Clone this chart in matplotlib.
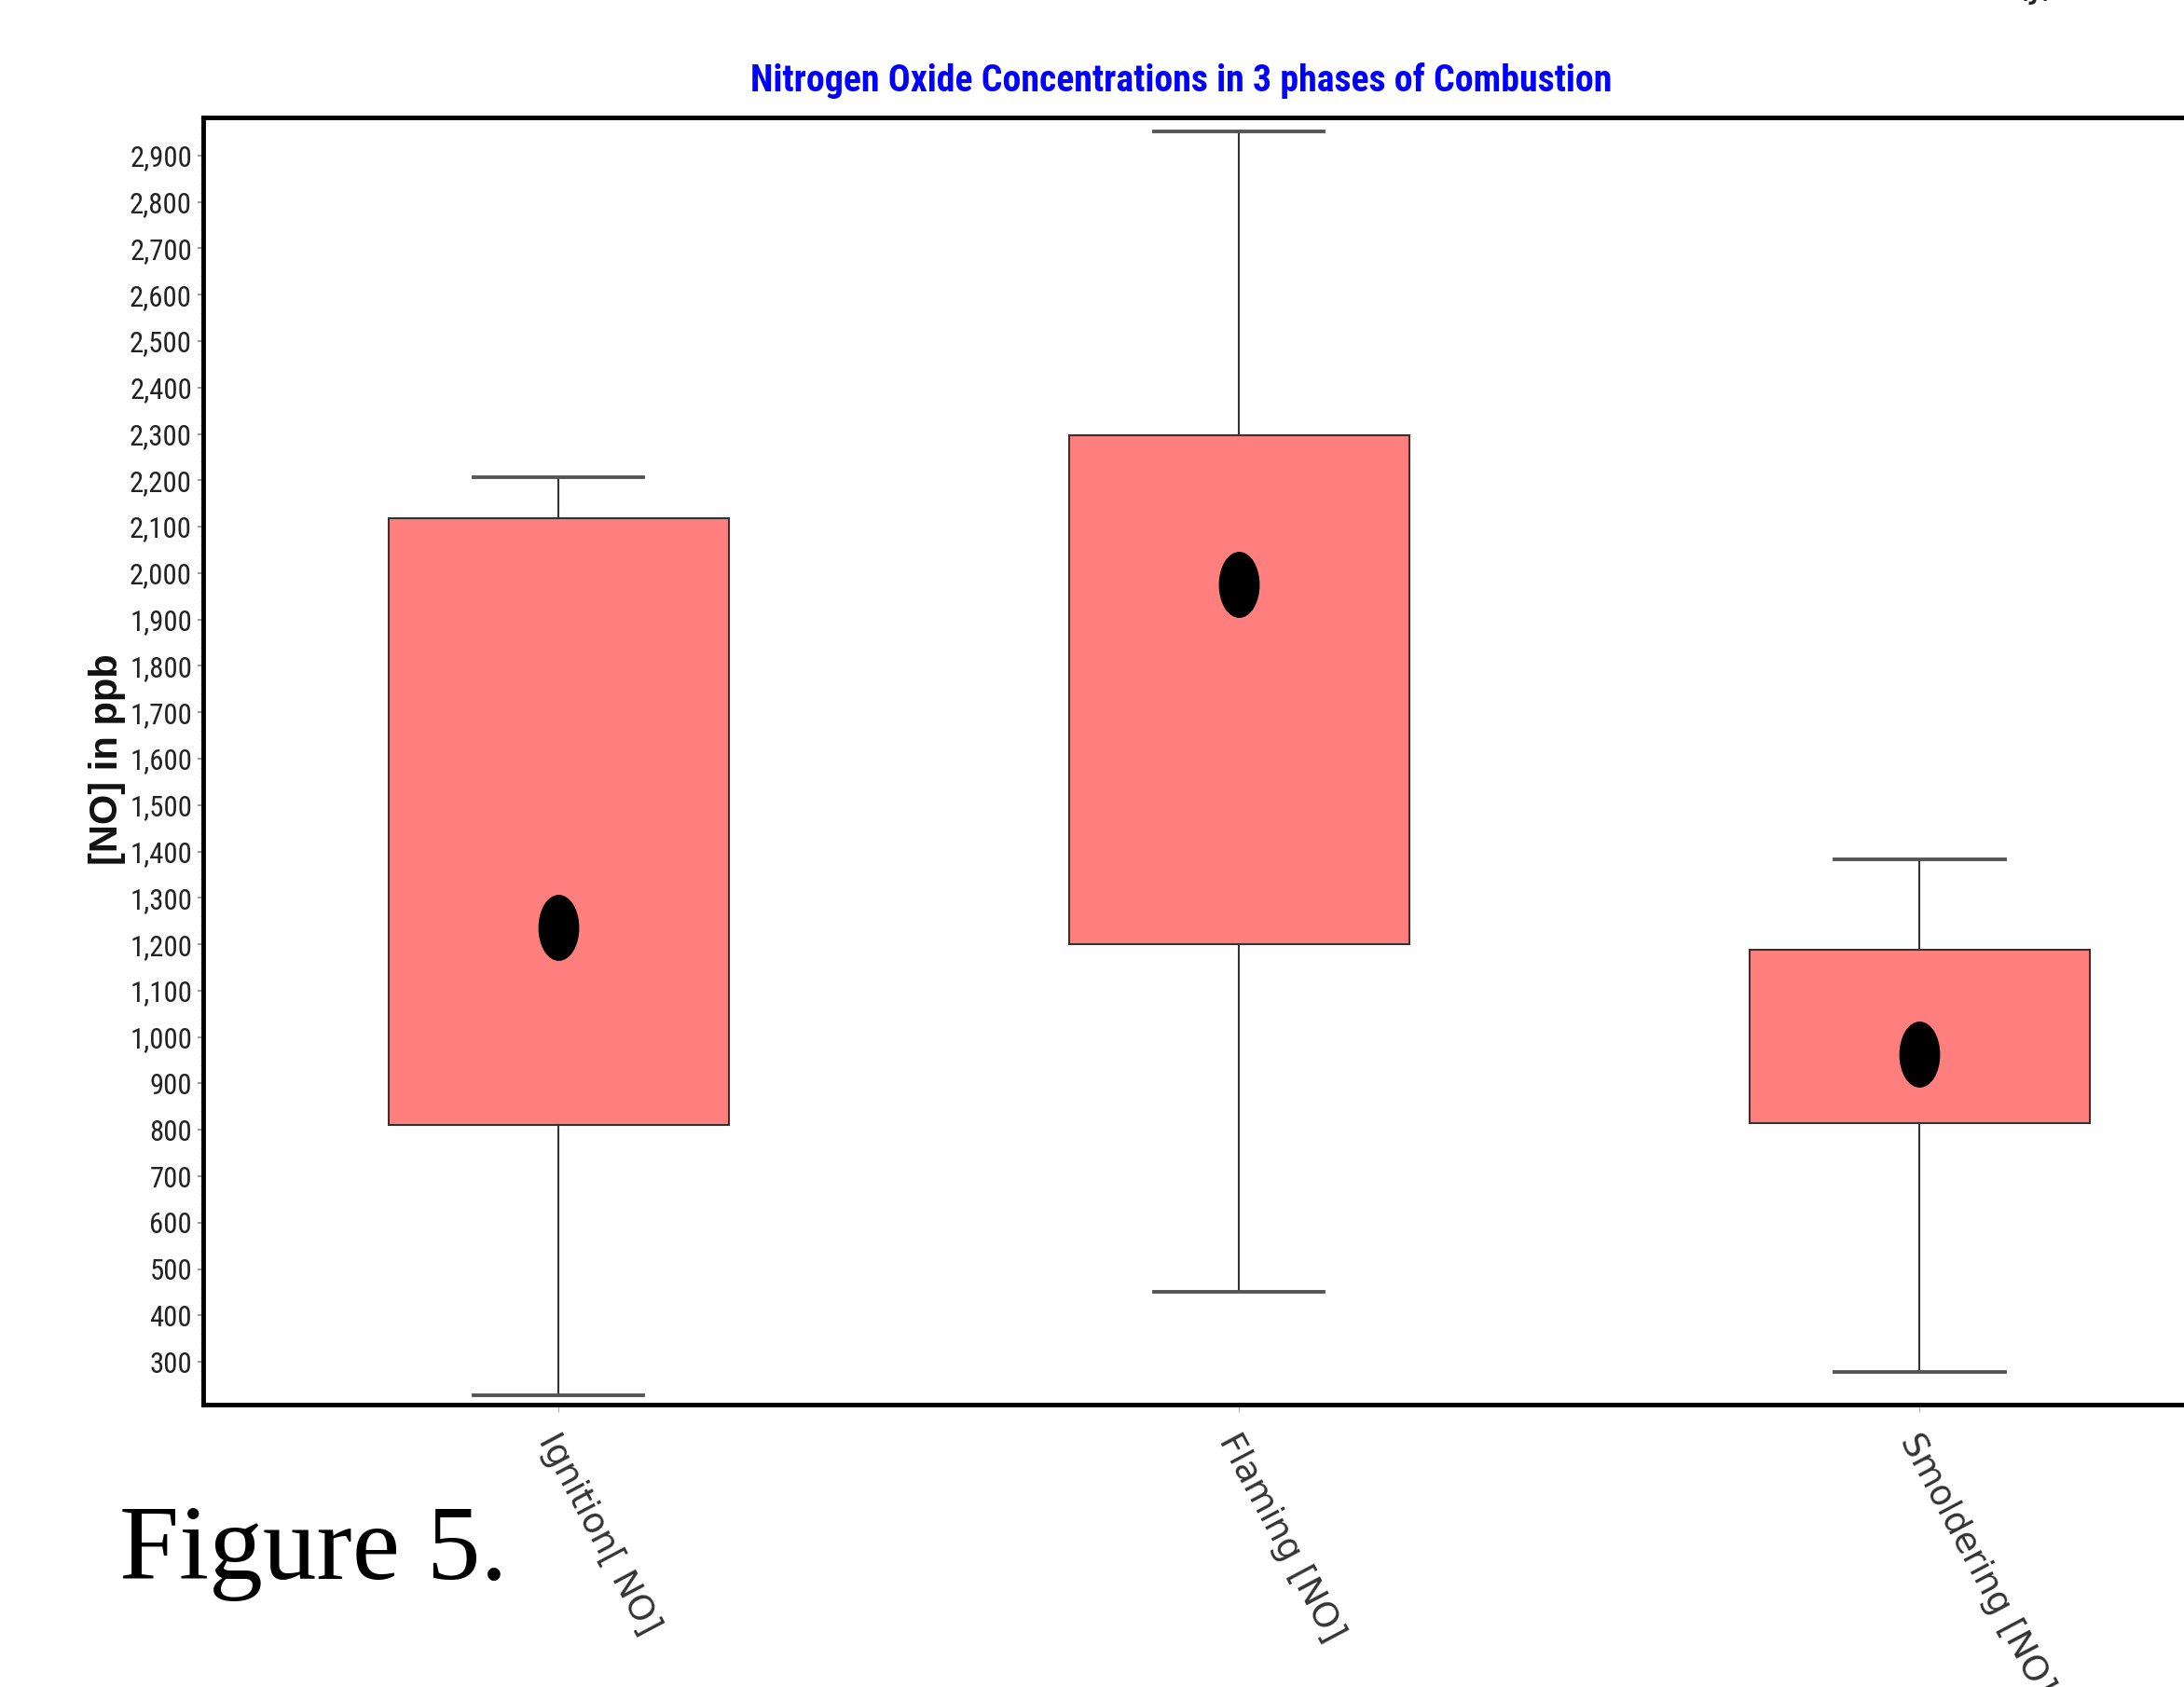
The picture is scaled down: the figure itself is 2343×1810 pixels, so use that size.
import os
import matplotlib
matplotlib.use('Agg')
import matplotlib.pyplot as plt
from matplotlib import font_manager
from matplotlib.font_manager import FontProperties
from matplotlib.path import Path
from matplotlib.transforms import Affine2D, ScaledTranslation
from matplotlib.ticker import MultipleLocator, FuncFormatter

# [NO] box summaries (ppb) for the three combustion phases
phases = ['Ignition[ NO]', 'Flaming [NO]', 'Smoldering [NO]']
whisker_low = [228, 451, 278]
q1 = [810, 1200, 814]
q3 = [2119, 2297, 1188]
whisker_high = [2207, 2952, 1383]
means = [1236, 1975, 963]
yticks = list(range(300, 3000, 100))
title = 'Nitrogen Oxide Concentrations in 3 phases of Combustion'


def find_font(candidates, fallback):
    # first narrow/condensed face that is installed, else a normal one
    files = {os.path.basename(f.fname).lower(): f.fname
             for f in font_manager.fontManager.ttflist}
    for c in candidates:
        if c.lower() in files:
            return FontProperties(fname=files[c.lower()])
    return fallback


narrow_bold = find_font(['LiberationSansNarrow-Bold.ttf', 'RobotoCondensed-Bold.ttf',
                         'NotoSans-ExtraCondensedBold.ttf', 'NotoSans-CondensedBold.ttf',
                         'OpenSans-CondBold.ttf', 'OpenSans_Condensed-Bold.ttf'],
                        FontProperties(family='Liberation Sans', weight='bold'))
narrow = find_font(['LiberationSansNarrow-Regular.ttf', 'RobotoCondensed-Regular.ttf',
                    'NotoSans-Condensed.ttf', 'NotoSans-ExtraCondensed.ttf',
                    'OpenSans_Condensed-Regular.ttf'],
                   FontProperties(family='Liberation Sans'))

stats = []
for p, lo, a, b, hi, m in zip(phases, whisker_low, q1, q3, whisker_high, means):
    stats.append(dict(label=p, whislo=lo, q1=a, med=m, q3=b, whishi=hi, mean=m, fliers=[]))

# tall ellipse for the mean marker
ellipse = Path.unit_circle().transformed(Affine2D().scale(0.61, 1.0))

fig = plt.figure(figsize=(23.43, 18.10), dpi=100)
ax = fig.add_axes([0.093, 0.1674, 0.948, 0.763])

ax.bxp(stats, positions=range(len(phases)), widths=0.5, capwidths=0.25,
       showmeans=True, showfliers=False, patch_artist=True,
       boxprops=dict(facecolor='#ff7f7f', edgecolor='#333333', linewidth=1.5),
       whiskerprops=dict(color='#333333', linewidth=1.5),
       capprops=dict(color='#555555', linewidth=2.8),
       medianprops=dict(linestyle='none'),
       meanprops=dict(marker=ellipse, markersize=50, markerfacecolor='black',
                      markeredgecolor='black', linestyle='none'))

ax.set_xlim(-0.522, 2.52)
ax.set_ylim(208, 2982)

for side in ['left', 'top', 'bottom']:
    ax.spines[side].set_linewidth(3.5)
    ax.spines[side].set_color('black')
ax.spines['right'].set_visible(False)

ax.set_yticks(yticks)
ax.yaxis.set_minor_locator(MultipleLocator(20))
ax.yaxis.set_major_formatter(FuncFormatter(lambda v, pos: '{:,}'.format(int(v))))
ax.tick_params(axis='y', which='major', length=4, width=1.2, color='#888888',
               pad=4.5, labelcolor='#222222')
ax.tick_params(axis='y', which='minor', length=2, width=1, color='#aaaaaa')

ax.set_xticks(range(len(phases)))
ax.set_xticklabels(phases, rotation=-62, ha='left', va='top', rotation_mode='anchor',
                   fontsize=27, color='#333333')
ax.tick_params(axis='x', length=6, width=0.8, color='#aaaaaa', pad=12)
shift = ScaledTranslation(0.03, 0, fig.dpi_scale_trans)
for lab in ax.get_xticklabels():
    lab.set_transform(lab.get_transform() + shift)

head = fig.text(0.541, 0.946, title, ha='center', va='baseline', color='#0000ff',
                fontproperties=narrow_bold, fontsize=30)
fig.text(0.049, 0.550, '[NO] in ppb', rotation=90, ha='center', va='center',
         fontweight='bold', fontfamily='Liberation Sans', fontsize=30, color='#111111')
fig.text(0.0546, 0.064, 'Figure 5.', ha='left', va='baseline',
         fontfamily='Liberation Serif', fontsize=83)
fig.text(0.932, 0.9975, '(j)', ha='center', va='bottom', fontsize=30, color='#222222')

# size the narrow texts so the title spans ~925 px and "2,900" ~67 px
ylabels = ax.get_yticklabels()
for lab in ylabels:
    lab.set_fontproperties(narrow)
    lab.set_fontsize(23)
fig.canvas.draw()
renderer = fig.canvas.get_renderer()
head.set_fontsize(30 * 925 / head.get_window_extent(renderer).width)
widest = max(lab.get_window_extent(renderer).width for lab in ylabels)
for lab in ylabels:
    lab.set_fontsize(23 * 67 / widest)

fig.savefig('out.png', dpi=100)
